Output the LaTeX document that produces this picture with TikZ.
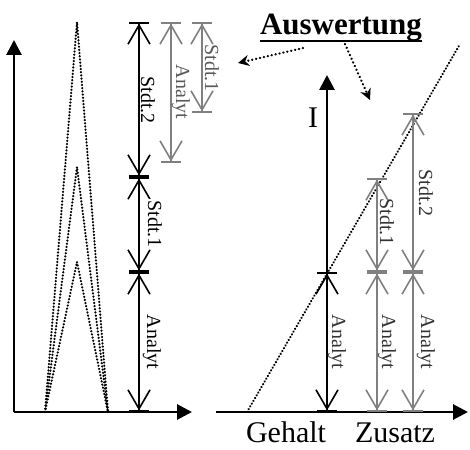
\documentclass[tikz,border=0pt]{standalone}
\usepackage{fontspec}
\setmainfont{Liberation Serif}
\usetikzlibrary{arrows.meta}

\begin{document}
\begin{tikzpicture}[x=1pt,y=-1pt,
	axis/.style={line width=2.8pt,-{Triangle[length=15pt,width=15pt]}},
	dim/.style={line width=1.6pt,{Bar[width=20pt,sep=0pt]Straight Barb[length=19pt,width=22pt,line width=1.6pt]}-{Straight Barb[length=19pt,width=22pt,line width=1.6pt]Bar[width=20pt,sep=0pt]}},
	dots/.style={line width=2.3pt,line cap=round,dash pattern=on 0.2pt off 3pt},
	lbl/.style={rotate=-90,font=\fontsize{20}{20}\selectfont,inner sep=1pt},
	big/.style={font=\fontsize{30}{30}\selectfont,inner sep=0pt,anchor=base}]
	\useasboundingbox (0,0) rectangle (470,449);
	
	% linkes Bild
	\coordinate (o1) at (14,412);
	\coordinate (y1) at (14,40);
	\coordinate (x1) at (192,412);
	\draw[axis] (o1) -- (y1);
	\draw[axis] (o1) -- (x1);
	
	\coordinate (pl) at (45,412);
	\coordinate (pr) at (108,412);
	\draw[dots] (pl) -- (77,22) -- (pr);
	\draw[dots] (pl) -- (77,167) -- (pr);
	\draw[dots] (pl) -- (77,262) -- (pr);
	
	\coordinate (a0) at (139,412);
	\coordinate (a1) at (139,272);
	\coordinate (a2) at (139,177);
	\coordinate (a3) at (139,22);
	\draw[dim] (a0) -- (a1);
	\draw[dim] (a1) -- (a2);
	\draw[dim] (a2) -- (a3);
	\node[lbl] (la1) at (152,342) {Analyt};
	\node[lbl,fill=white] (la2) at (155,224) {Stdt.1};
	\node[lbl,fill=white] (la3) at (148,100) {Stdt.2};
	
	\coordinate (b0) at (171,163);
	\coordinate (b1) at (171,22);
	\coordinate (c0) at (202,113);
	\coordinate (c1) at (202,22);
	\draw[dim,gray] (b0) -- (b1);
	\draw[dim,gray] (c0) -- (c1);
	\node[lbl,gray!70!black] (lb) at (181,92) {Analyt};
	\node[lbl,gray!70!black] (lc) at (212,68) {Stdt.1};
	
	% rechtes Bild
	\coordinate (o2) at (327,412);
	\draw[axis] (216,412) -- (468,412);
	\draw[axis] (o2) -- (327,75);
	\node[big] (ii) at (313,128) {I};
	\node[big] (geh) at (286,442) {Gehalt};
	\node[big] (zus) at (395,442) {Zusatz};
	
	\draw[dots] (247,412) -- (460,44);
	
	\coordinate (r1) at (327,272);
	\coordinate (s0) at (377,412);
	\coordinate (s1) at (377,272);
	\coordinate (s2) at (377,178);
	\coordinate (t0) at (413,412);
	\coordinate (t1) at (413,272);
	\coordinate (t2) at (413,113);
	\draw[dim] (o2) -- (r1);
	\draw[dim,gray] (s0) -- (s1);
	\draw[dim,gray] (s1) -- (s2);
	\draw[dim,gray] (t0) -- (t1);
	\draw[dim,gray] (t1) -- (t2);
	\node[lbl,black!80] (lr) at (337,342) {Analyt};
	\node[lbl,black!80] (ls1) at (387,342) {Analyt};
	\node[lbl,black!80] (ls2) at (387,222) {Stdt.1};
	\node[lbl,black!80] (lt1) at (426,342) {Analyt};
	\node[lbl,black!80] (lt2) at (426,193) {Stdt.2};
	
	% Auswertung
	\node[big,font=\fontsize{31}{31}\selectfont\bfseries] (aw) at (341,35) {Auswertung};
	\draw[line width=2.5pt] ([yshift=-6pt]aw.base west) -- ([yshift=-6pt]aw.base east);
	\coordinate (zl) at (238,63);
	\coordinate (zr) at (370,100);
	\draw[dots,line width=2.4pt,dash pattern=on 0.2pt off 3.8pt,-{Stealth[length=11pt,width=11pt]}] ([xshift=-38pt,yshift=-6pt]aw.south) -- (zl);
	\draw[dots,line width=2.4pt,dash pattern=on 0.2pt off 3.8pt,-{Stealth[length=11pt,width=11pt]}] ([xshift=4pt,yshift=-2pt]aw.south) -- (zr);
\end{tikzpicture}
\end{document}
